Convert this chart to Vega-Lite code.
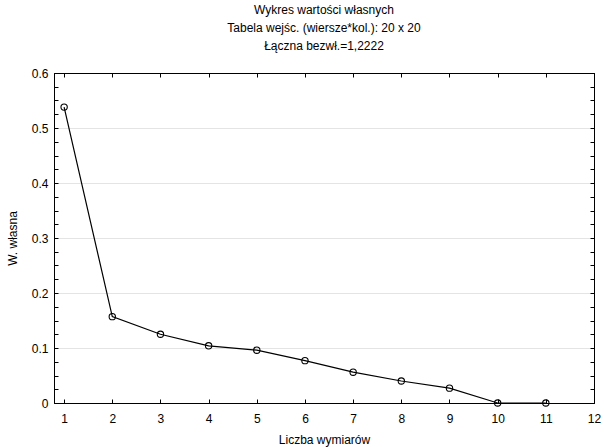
{
  "$schema": "https://vega.github.io/schema/vega-lite/v6.json",
  "width": 540,
  "height": 330,
  "autosize": {"type": "none"},
  "padding": {"left": 54, "top": 73, "right": 10, "bottom": 44},
  "background": "white",
  "title": {
    "text": ["Wykres wartości własnych", "Tabela wejśc. (wiersze*kol.): 20 x 20", "Łączna bezwł.=1,2222"],
    "fontSize": 12,
    "fontWeight": "normal",
    "font": "Liberation Sans",
    "lineHeight": 18,
    "offset": 14,
    "anchor": "middle",
    "color": "black"
  },
  "data": {
    "values": [
      {"dim": 1, "val": 0.538},
      {"dim": 2, "val": 0.157},
      {"dim": 3, "val": 0.125},
      {"dim": 4, "val": 0.104},
      {"dim": 5, "val": 0.096},
      {"dim": 6, "val": 0.077},
      {"dim": 7, "val": 0.056},
      {"dim": 8, "val": 0.040},
      {"dim": 9, "val": 0.027},
      {"dim": 10, "val": 0.0},
      {"dim": 11, "val": 0.0}
    ]
  },
  "config": {
    "font": "Liberation Sans",
    "view": {"stroke": "black", "strokeWidth": 1},
    "axis": {
      "domainColor": "black",
      "tickColor": "black",
      "labelColor": "black",
      "titleColor": "black",
      "labelFont": "Liberation Sans",
      "titleFont": "Liberation Sans",
      "labelFontSize": 12,
      "titleFontSize": 12,
      "titleFontWeight": "normal",
      "tickSize": -4,
      "labelOverlap": false,
      "labelFlush": false,
      "gridColor": "#e4e4e4"
    }
  },
  "layer": [
    {
      "mark": {"type": "line", "color": "black", "strokeWidth": 1.2},
      "encoding": {
        "x": {
          "field": "dim",
          "type": "quantitative",
          "scale": {"domain": [0.79, 12], "nice": false, "zero": false},
          "axis": {
            "orient": "bottom",
            "values": [1, 2, 3, 4, 5, 6, 7, 8, 9, 10, 11, 12],
            "grid": false,
            "title": "Liczba wymiarów",
            "labelPadding": 14,
            "titlePadding": 10
          }
        },
        "y": {
          "field": "val",
          "type": "quantitative",
          "scale": {"domain": [0, 0.6], "nice": false},
          "axis": {
            "orient": "left",
            "values": [0, 0.025, 0.05, 0.075, 0.1, 0.125, 0.15, 0.175, 0.2, 0.225, 0.25, 0.275, 0.3, 0.325, 0.35, 0.375, 0.4, 0.425, 0.45, 0.475, 0.5, 0.525, 0.55, 0.575, 0.6],
            "labelExpr": "abs(round(datum.value*10) - datum.value*10) < 0.001 ? format(datum.value, '.1~f') : ''",
            "grid": true,
            "gridOpacity": {
              "condition": {"test": "abs(round(datum.value*10) - datum.value*10) < 0.001 && datum.value > 0.001 && datum.value < 0.599", "value": 1},
              "value": 0
            },
            "title": "W. własna",
            "labelPadding": 10,
            "titlePadding": 12
          }
        }
      }
    },
    {
      "mark": {"type": "point", "shape": "circle", "filled": false, "color": "black", "size": 40, "strokeWidth": 1.1, "opacity": 1},
      "encoding": {
        "x": {
          "field": "dim",
          "type": "quantitative",
          "axis": {
            "orient": "top",
            "values": [1, 2, 3, 4, 5, 6, 7, 8, 9, 10, 11, 12],
            "labels": false,
            "grid": false,
            "title": null
          }
        },
        "y": {
          "field": "val",
          "type": "quantitative",
          "axis": {
            "orient": "right",
            "values": [0, 0.025, 0.05, 0.075, 0.1, 0.125, 0.15, 0.175, 0.2, 0.225, 0.25, 0.275, 0.3, 0.325, 0.35, 0.375, 0.4, 0.425, 0.45, 0.475, 0.5, 0.525, 0.55, 0.575, 0.6],
            "labels": false,
            "grid": false,
            "title": null
          }
        }
      }
    }
  ],
  "resolve": {"axis": {"x": "independent", "y": "independent"}}
}
